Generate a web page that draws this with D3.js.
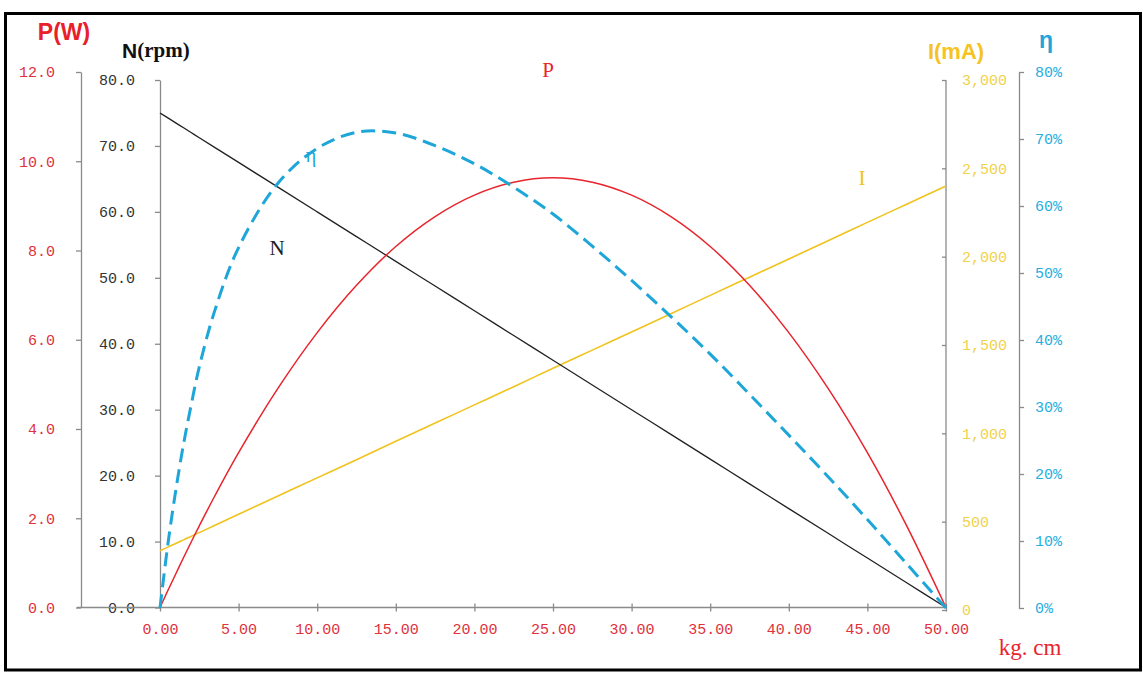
<!DOCTYPE html>
<html><head><meta charset="utf-8">
<script src="https://cdn.jsdelivr.net/npm/d3@7"></script>
<style>body{margin:0;background:#fff;} svg{display:block;}</style>
</head><body><svg id="c" width="1143" height="678"></svg>
<script>
// ---- data ----
const torque     = [0, 0.5, 1, 1.5, 2, 2.5, 3.5, 5, 7.5, 10, 12.5, 15, 17.5, 20, 22.5, 25, 27.5, 30, 32.5, 35, 37.5, 40, 42.5, 45, 47.5, 50];
const speed      = [75, 74.25, 73.5, 72.75, 72, 71.25, 69.75, 67.5, 63.75, 60, 56.25, 52.5, 48.75, 45, 41.25, 37.5, 33.75, 30, 26.25, 22.5, 18.75, 15, 11.25, 7.5, 3.75, 0];
const power      = [0, 0.38, 0.75, 1.12, 1.48, 1.83, 2.51, 3.47, 4.91, 6.16, 7.22, 8.09, 8.76, 9.24, 9.53, 9.63, 9.53, 9.24, 8.76, 8.09, 7.22, 6.16, 4.91, 3.47, 1.83, 0];
const current    = [335, 356, 376, 397, 418, 438, 480, 542, 645, 748, 851, 955, 1058, 1161, 1264, 1368, 1471, 1574, 1677, 1781, 1884, 1987, 2090, 2194, 2297, 2400];
const efficiency = [0, 9.5, 17.5, 24.5, 30.5, 36, 44.5, 53.8, 63.4, 68.6, 71.0, 70.9, 69.0, 66.3, 62.8, 58.8, 54.0, 48.9, 43.5, 37.9, 31.9, 25.8, 19.6, 13.2, 6.6, 0];

const xTicks = [0, 5, 10, 15, 20, 25, 30, 35, 40, 45, 50];
const pTicks = [0, 2, 4, 6, 8, 10, 12];
const nTicks = [0, 10, 20, 30, 40, 50, 60, 70, 80];
const iTicks = [0, 500, 1000, 1500, 2000, 2500, 3000];
const eTicks = [0, 10, 20, 30, 40, 50, 60, 70, 80];

// ---- styles ----
const RED = "#e8242c", RED_T = "#e0313c";
const YEL = "#f0c31c", YEL_T = "#f0d24b", YEL_H = "#f6c322";
const CYA = "#1ea6d8", CYA_T = "#27aee0";
const AX = "#8a8a8a";
const MONO = "'Liberation Mono', monospace";
const SERIF = "'Liberation Serif', serif";
const SANS = "'Liberation Sans', Arial, sans-serif";

const svg = d3.select("#c");

// frame
svg.append("rect").attr("x", 5.5).attr("y", 13.5).attr("width", 1135).attr("height", 656.5)
  .attr("fill", "#fff").attr("stroke", "#000").attr("stroke-width", 3);

// scales
const x  = d3.scaleLinear().domain([0, 50]).range([160, 946]);
const yP = d3.scaleLinear().domain([0, 12]).range([607.5, 72]);
const yN = d3.scaleLinear().domain([0, 80]).range([607.5, 80]);
const yI = d3.scaleLinear().domain([0, 3000]).range([610, 80]);
const yE = d3.scaleLinear().domain([0, 80]).range([608, 72]);

function styleAxis(g, color) {
  g.select(".domain").attr("stroke", AX).attr("stroke-width", 1.3);
  g.selectAll(".tick line").attr("stroke", AX).attr("stroke-width", 1.3);
  g.selectAll(".tick text").attr("fill", color).style("font-family", MONO).style("font-size", "15px");
}

// P axis (left outer)
const gP = svg.append("g").attr("transform", "translate(81,0)")
  .call(d3.axisLeft(yP).tickValues(pTicks).tickFormat(d3.format(".1f")).tickSizeInner(5).tickSizeOuter(0).tickPadding(21));
styleAxis(gP, RED_T);

// N axis
const gN = svg.append("g").attr("transform", "translate(160,0)")
  .call(d3.axisLeft(yN).tickValues(nTicks).tickFormat(d3.format(".1f")).tickSizeInner(5).tickSizeOuter(0).tickPadding(20));
styleAxis(gN, "#333");

// I axis (right inner)
const gI = svg.append("g").attr("transform", "translate(946,0)")
  .call(d3.axisRight(yI).tickValues(iTicks).tickFormat(d3.format(",d")).tickSizeInner(0).tickSizeOuter(0).tickPadding(16));
styleAxis(gI, YEL_T);
gI.selectAll(".tick line").attr("x1", -4).attr("x2", 0);
gI.select(".domain").attr("d", `M0,${yI(3000)}V${yN(0)}`);

// eta axis (right outer)
const gE = svg.append("g").attr("transform", "translate(1019,0)")
  .call(d3.axisRight(yE).tickValues(eTicks).tickFormat(d => d + "%").tickSizeInner(5).tickSizeOuter(0).tickPadding(11));
styleAxis(gE, CYA_T);

// X axis
const gX = svg.append("g").attr("transform", "translate(0,607.5)")
  .call(d3.axisBottom(x).tickValues(xTicks).tickFormat(d3.format(".2f")).tickSizeInner(4).tickSizeOuter(0).tickPadding(12));
styleAxis(gX, RED_T);
gX.selectAll(".tick line").attr("y1", -4).attr("y2", 4);
gX.select(".domain").attr("d", "M77,0H946");

// lines
const curve = d3.curveCatmullRom.alpha(0.5);
function drawLine(vals, ys, color, w, dash) {
  const p = svg.append("path")
    .datum(torque.map((t, i) => [t, vals[i]]))
    .attr("fill", "none").attr("stroke", color).attr("stroke-width", w)
    .attr("stroke-linejoin", "round")
    .attr("d", d3.line().x(d => x(d[0])).y(d => ys(d[1])).curve(curve));
  if (dash) p.attr("stroke-dasharray", dash);
}
drawLine(current, yI, YEL, 1.6);
drawLine(speed, yN, "#222", 1.3);
drawLine(power, yP, RED, 1.5);
drawLine(efficiency, yE, CYA, 3, "14,7");

// axis titles
function txt(s, px, py, color, size, family, weight, anchor) {
  return svg.append("text").attr("x", px).attr("y", py).attr("fill", color)
    .attr("text-anchor", anchor || "middle").attr("dominant-baseline", "central")
    .style("font-family", family).style("font-size", size + "px").style("font-weight", weight || "normal")
    .text(s);
}
txt("P(W)", 64, 32, "#e8202a", 23, SANS, "bold");
const nt = svg.append("text").attr("x", 122).attr("y", 50).attr("dominant-baseline", "central")
  .attr("fill", "#111").style("font-size", "21px").style("font-weight", "bold");
nt.append("tspan").style("font-family", SANS).text("N");
nt.append("tspan").style("font-family", SERIF).text("(rpm)");
txt("I(mA)", 956, 51, YEL_H, 22, SANS, "bold");
txt("η", 1046, 40, CYA, 23, SANS, "bold");

// series labels
txt("P", 548, 70, RED, 21, SERIF);
txt("η", 311, 155, CYA, 20, SERIF);
txt("N", 277, 248, "#222", 21, SERIF);
txt("I", 862, 178, YEL, 21, SERIF);

// x unit
txt("kg. cm", 1030, 647, RED, 23, SERIF);
</script>
</body></html>
